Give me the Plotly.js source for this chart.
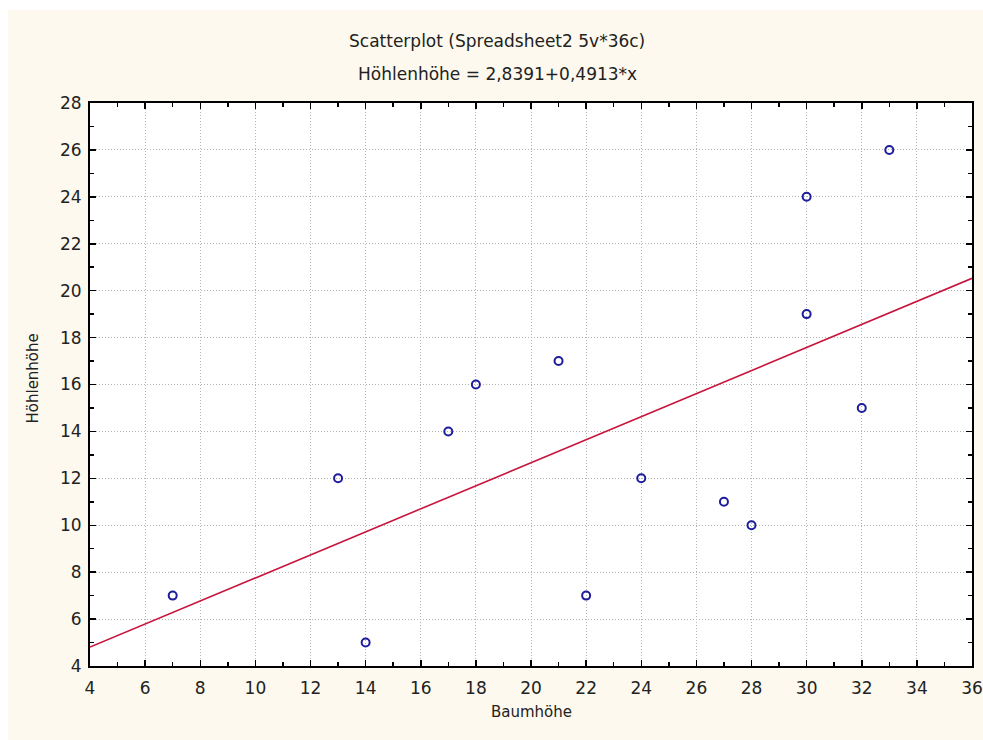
<!DOCTYPE html>
<html>
<head>
<meta charset="utf-8">
<script src="https://cdn.plot.ly/plotly-3.0.1.min.js"></script>
<style>
html,body{margin:0;padding:0;background:#ffffff;}
#chart{position:absolute;left:8px;top:10px;width:975px;height:730px;}
</style>
</head>
<body>
<div id="chart"></div>
<script>
const baumhoehe = [7, 13, 14, 17, 18, 21, 22, 24, 27, 28, 30, 30, 32, 33];
const hoehlenhoehe = [7, 12, 5, 14, 16, 17, 7, 12, 11, 10, 24, 19, 15, 26];
const intercept = 2.8391;
const slope = 0.4913;
const fitX = [4, 36];
const fitY = fitX.map(x => intercept + slope * x);
const tickVals = [4, 6, 8, 10, 12, 14, 16, 18, 20, 22, 24, 26, 28, 30, 32, 34, 36];
const yTickVals = [4, 6, 8, 10, 12, 14, 16, 18, 20, 22, 24, 26, 28];

const font = "DejaVu Sans, Verdana, sans-serif";

const traces = [
  {
    x: fitX, y: fitY, mode: 'lines', type: 'scatter',
    line: {color: '#c8143c', width: 1.6},
    hoverinfo: 'skip', showlegend: false
  },
  {
    x: baumhoehe, y: hoehlenhoehe, mode: 'markers', type: 'scatter',
    marker: {symbol: 'circle-open', size: 8, color: '#1c1c9c', line: {width: 2, color: '#1c1c9c'}},
    showlegend: false
  }
];

const axisCommon = {
  showline: true, linecolor: '#000000', linewidth: 2, mirror: 'allticks',
  ticks: 'inside', ticklen: 6, tickwidth: 1.5, tickcolor: '#000000',
  showgrid: true, gridcolor: '#b4b4b4', griddash: '1px,2px', gridwidth: 1,
  zeroline: false,
  tickfont: {family: font, size: 17, color: '#222222'},
  minor: {dtick: 1, ticks: 'inside', ticklen: 4, tickwidth: 1.5, tickcolor: '#000000', showgrid: false}
};

const layout = {
  width: 975, height: 730,
  paper_bgcolor: '#fdf9ee', plot_bgcolor: '#ffffff',
  margin: {l: 82, r: 11, t: 93, b: 74},
  xaxis: Object.assign({}, axisCommon, {range: [4, 36], tickvals: tickVals, ticklabelstandoff: 6}),
  yaxis: Object.assign({}, axisCommon, {range: [4, 28], tickvals: yTickVals, ticklabelstandoff: 3}),
  annotations: [
    {text: 'Scatterplot (Spreadsheet2 5v*36c)', xref: 'paper', yref: 'paper', x: 0.4615, y: 1, yshift: 62,
     showarrow: false, font: {family: font, size: 17, color: '#222222'}, xanchor: 'center', yanchor: 'middle'},
    {text: 'Höhlenhöhe = 2,8391+0,4913*x', xref: 'paper', yref: 'paper', x: 0.4615, y: 1, yshift: 29,
     showarrow: false, font: {family: font, size: 17, color: '#222222'}, xanchor: 'center', yanchor: 'middle'},
    {text: 'Baumhöhe', xref: 'paper', yref: 'paper', x: 0.5, y: 0, yshift: -46,
     showarrow: false, font: {family: font, size: 15, color: '#222222'}, xanchor: 'center', yanchor: 'middle'},
    {text: 'Höhlenhöhe', xref: 'paper', yref: 'paper', x: 0, y: 0.5, xshift: -58, yshift: 6, textangle: -90,
     showarrow: false, font: {family: font, size: 15, color: '#222222'}, xanchor: 'center', yanchor: 'middle'}
  ]
};

Plotly.newPlot('chart', traces, layout, {displayModeBar: false, staticPlot: true});
</script>
</body>
</html>
